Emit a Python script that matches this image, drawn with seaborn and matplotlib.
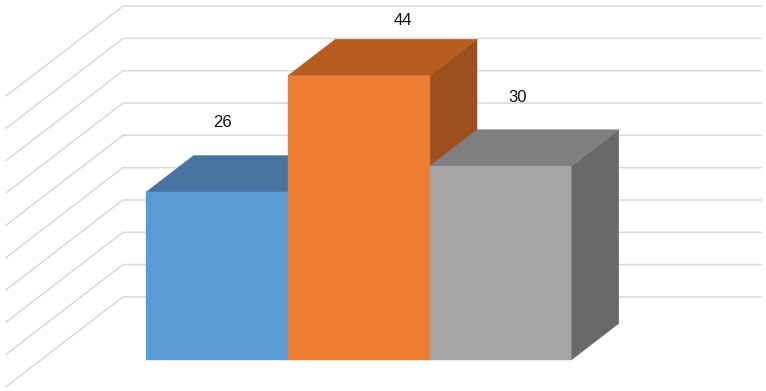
"""
3D-looking column chart (Excel style) drawn with seaborn + matplotlib patches
"""

import numpy as np
import seaborn as sns
import matplotlib
matplotlib.use("Agg")
import matplotlib.pyplot as plt
from matplotlib.patches import Polygon

# data
categories = ["A", "B", "C"]
values = [26, 44, 30]
labels = ["26", "44", "30"]
grid_values = [0, 5, 10, 15, 20, 25, 30, 35, 40, 45]

# colours: front, top, side
front_colors = ["#5B9BD5", "#ED7D31", "#A5A5A5"]
top_colors = ["#46739F", "#B65D22", "#7F7F7F"]
side_colors = ["#3E6790", "#9B501E", "#696969"]

# oblique projection: one unit of depth moves (kx, kv) in data coords
kx, kv = 0.335, 5.65
wall_z = 1.73
side_front_z = -0.74
wall_left, wall_right = -1.243, 3.266
label_shift = [(0.04, 10.7), (0.31, 8.6), (0.12, 10.7)]


def proj(x, v, z):
    return (x + z * kx, v + z * kv)


sns.set_style("white")
plt.rcParams["font.family"] = ["Liberation Sans", "DejaVu Sans"]

fig = plt.figure(figsize=(7.66, 3.91), dpi=100)
ax = fig.add_axes([0, 0, 1, 1])

# gridlines on back wall and side wall
for g in grid_values:
    p0 = proj(wall_left, g, side_front_z)
    p1 = proj(wall_left, g, wall_z)
    p2 = proj(wall_right, g, wall_z)
    ax.plot([p0[0], p1[0], p2[0]], [p0[1], p1[1], p2[1]],
            color="#D9D9D9", lw=1.1, zorder=0, solid_capstyle="butt")

# front faces through seaborn
sns.barplot(x=categories, y=values, hue=categories, palette=front_colors,
            width=1.0, saturation=1, legend=False, ax=ax, zorder=1)
for p in ax.patches:
    p.set_edgecolor(p.get_facecolor())
    p.set_linewidth(0.3)

# sides and tops, left to right so later bars hide earlier sides
bars = list(ax.patches)
for i, bar in enumerate(bars):
    x0 = bar.get_x()
    x1 = x0 + bar.get_width()
    v = bar.get_height()
    z = 3 * i + 1
    side = Polygon([proj(x1, 0, 0), proj(x1, v, 0), proj(x1, v, 1), proj(x1, 0, 1)],
                   closed=True, facecolor=side_colors[i], edgecolor=side_colors[i],
                   lw=0.3, zorder=z)
    top = Polygon([proj(x0, v, 0), proj(x1, v, 0), proj(x1, v, 1), proj(x0, v, 1)],
                  closed=True, facecolor=top_colors[i], edgecolor=top_colors[i],
                  lw=0.3, zorder=z + 1)
    ax.add_patch(side)
    ax.add_patch(top)
    bar.set_zorder(z + 2)
    dx, dy = label_shift[i]
    ax.text(i + dx, v + dy, labels[i], ha="center", va="center",
            fontsize=12, color="#0D0D0D", zorder=20)

ax.set_xlim(-1.531, 3.874)
ax.set_ylim(-4.8, 55.73)
ax.axis("off")

fig.savefig("out.png", dpi=100, facecolor="white")
